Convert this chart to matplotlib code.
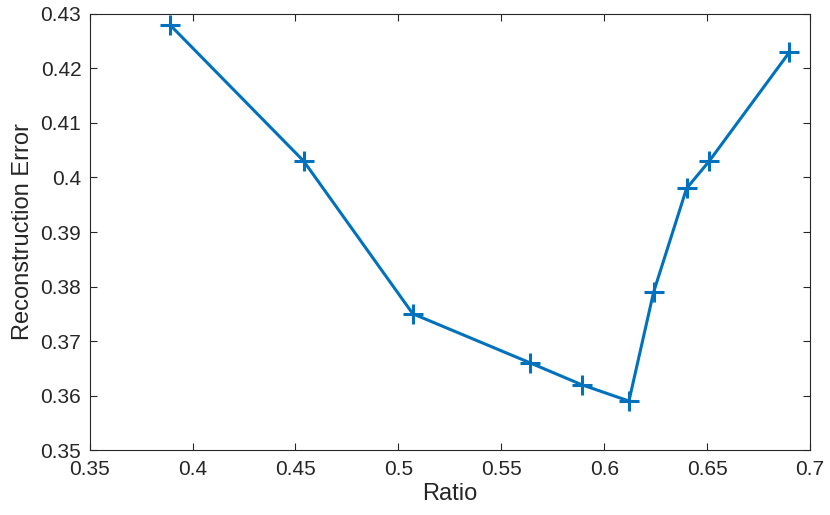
import matplotlib
matplotlib.use("Agg")
import matplotlib.pyplot as plt

# data
ratio = [0.389, 0.454, 0.507, 0.564, 0.589, 0.612, 0.624, 0.640, 0.651, 0.690]
recon_err = [0.428, 0.403, 0.375, 0.366, 0.362, 0.359, 0.379, 0.398, 0.403, 0.423]
x_ticks = [0.35, 0.4, 0.45, 0.5, 0.55, 0.6, 0.65, 0.7]
y_ticks = [0.35, 0.36, 0.37, 0.38, 0.39, 0.4, 0.41, 0.42, 0.43]

plt.rcParams['font.family'] = ['Liberation Sans', 'DejaVu Sans']

fig = plt.figure(figsize=(8.3, 5.15), dpi=100)
ax = fig.add_axes([0.108, 0.126, 0.868, 0.847])

ax.plot(ratio, recon_err, '-+', color='#0072BD', linewidth=2.2,
        markersize=14, markeredgewidth=2.2)

ax.set_xlim(0.35, 0.7)
ax.set_ylim(0.35, 0.43)
ax.set_xticks(x_ticks)
ax.set_yticks(y_ticks)
ax.set_xticklabels([('%g' % v) for v in x_ticks])
ax.set_yticklabels([('%g' % v) for v in y_ticks])
ax.tick_params(direction='in', top=True, right=True, labelsize=15,
               length=5, width=0.8, colors='#262626')
ax.tick_params(axis='x', pad=7)
ax.tick_params(axis='y', pad=6)
for s in ax.spines.values():
    s.set_linewidth(0.8)
    s.set_color('#262626')

ax.set_xlabel('Ratio', fontsize=17, color='#262626', labelpad=3)
ax.set_ylabel('Reconstruction Error', fontsize=17, color='#262626', labelpad=5)

fig.savefig('out.png', dpi=100)
